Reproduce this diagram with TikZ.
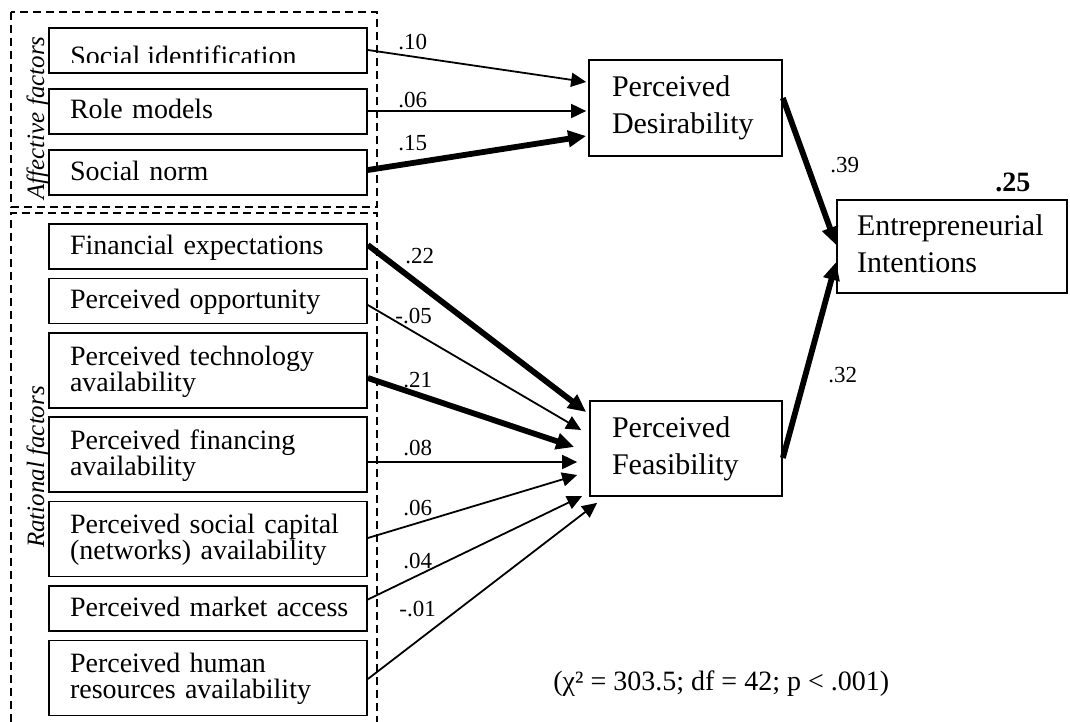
\documentclass[tikz,border=0pt]{standalone}
\usepackage{fontspec}
\setmainfont{Liberation Serif}
\usetikzlibrary{arrows.meta,calc}
\begin{document}
\begin{tikzpicture}[x=0.5pt,y=-0.5pt,
  leftbox/.style={draw, line width=0.85pt, inner xsep=10.5pt, inner ysep=0pt,
    text width=138pt, align=left, font=\fontsize{14}{13}\selectfont,
    text height=10pt},
  onel/.style={leftbox, minimum height=22.5pt, text depth=2.5pt},
  twol/.style={leftbox, minimum height=37.5pt, text depth=15.5pt},
  rightbox/.style={draw, line width=0.85pt, inner ysep=0pt, align=left,
    font=\fontsize{15}{18.5}\selectfont, text height=10.5pt, text depth=21.5pt},
  grp/.style={draw, line width=0.75pt, dash pattern=on 4pt off 2.5pt},
  grplab/.style={rotate=90, anchor=base, inner sep=0pt, font=\fontsize{12.5}{14}\selectfont\itshape},
  thinarr/.style={line width=0.9pt, -{Triangle[length=7.5pt,width=7pt]}},
  thickarr/.style={line width=2.9pt, -{Triangle[length=9pt,width=8pt]}},
  lab/.style={anchor=base west, inner sep=0pt, font=\fontsize{11.5}{12}\selectfont}
]
\useasboundingbox (0,0) rectangle (1070,722);

% group frames
\draw[grp] (11,12) rectangle (377,207);
\draw[grp] (11,722) -- (11,213) -- (377,213) -- (377,722);
\node[grplab] (aff) at (44,118) {Affective factors};
\node[grplab] (rat) at (44,467) {Rational factors};

% left boxes
\node[onel] (si) at (208,50.5) {};
\begin{scope}
  \clip (49,28) rectangle (367,63);
  \node[anchor=base west, inner sep=0pt, font=\fontsize{14}{13}\selectfont] (sitext) at (70,65.5) {Social identification};
\end{scope}
\node[onel] (rm) at (208,111.5) {Role models};
\node[onel] (sn) at (208,172.5) {Social norm};
\node[onel] (fe) at (208,246.5) {\mbox{Financial expectations}};
\node[onel] (po) at (208,301) {\mbox{Perceived opportunity}};
\node[twol] (pt) at (208,370.5) {\mbox{Perceived technology}\\availability};
\node[twol] (pf) at (208,454.5) {\mbox{Perceived financing}\\availability};
\node[twol] (psc) at (208,539) {\mbox{Perceived social capital}\\\mbox{(networks) availability}};
\node[onel] (pma) at (208,608.5) {\mbox{Perceived market access}};
\node[twol] (phr) at (208,678) {\mbox{Perceived human}\\\mbox{resources availability}};

% right boxes
\node[rightbox, minimum width=96.5pt, minimum height=48pt, inner xsep=11.5pt, text width=73.5pt] (des) at (685.5,108) {Perceived\\\mbox{Desirability}};
\node[rightbox, minimum width=96pt, minimum height=47.5pt, inner xsep=11pt, text width=74pt] (fea) at (686,448.5) {Perceived\\\mbox{Feasibility}};
\node[rightbox, minimum width=115pt, minimum height=46.5pt, inner xsep=10pt, text width=95pt] (int) at (952,246.5) {\mbox{Entrepreneurial}\\Intentions};

% arrows to desirability
\draw[thinarr] ($(si.east)+(0,-0.5)$) -- ($(des.west)+(-2,-26)$);
\draw[thinarr] ($(rm.east)+(0,-0.5)$) -- ($(des.west)+(-2,3)$);
\draw[thickarr] ($(sn.east)+(0,-2.5)$) -- ($(des.west)+(-2,28)$);

% arrows to feasibility
\draw[thickarr] ($(fe.east)+(0,-1.5)$) -- ($(fea.west)+(-3,-36.5)$);
\draw[thinarr] ($(po.east)+(0,4)$) -- ($(fea.west)+(-8,-18.5)$);
\draw[thickarr] ($(pt.east)+(0,7.5)$) -- ($(fea.west)+(-15,-1.5)$);
\draw[thinarr] ($(pf.east)+(0,7.5)$) -- ($(fea.west)+(-12,13.5)$);
\draw[thinarr] ($(psc.east)+(0,-1)$) -- ($(fea.west)+(-12,26.5)$);
\draw[thinarr] ($(pma.east)+(0,-9)$) -- ($(fea.west)+(-7,47.5)$);
\draw[thinarr] ($(phr.east)+(0,1)$) -- ($(fea.south west)+(8,6)$);

% arrows to intentions
\draw[thickarr] ($(des.east)+(0,-10)$) -- ($(int.west)+(0,-1.5)$);
\draw[thickarr] ($(fea.east)+(0,9.5)$) -- ($(int.west)+(0,15.5)$);

% path labels
\node[lab] (l1) at (398,50) {.10};
\node[lab] (l2) at (398,107) {.06};
\node[lab] (l3) at (398,150) {.15};
\node[lab] (l4) at (405,263) {.22};
\node[lab] (l5) at (395,323) {-.05};
\node[lab] (l6) at (403,387) {.21};
\node[lab] (l7) at (403,455) {.08};
\node[lab] (l8) at (403,515) {.06};
\node[lab] (l9) at (403,568) {.04};
\node[lab] (l10) at (399,616) {-.01};
\node[lab] (l11) at (830,172) {.39};
\node[lab] (l12) at (828,382) {.32};
\node[anchor=base west, inner sep=0pt, font=\fontsize{14}{16}\selectfont\bfseries] (r2) at (995,191) {.25};

% fit statistics
\node[anchor=base west, inner sep=0pt, font=\fontsize{14}{16}\selectfont] (chi) at (553,690) {(χ² = 303.5; df = 42; p < .001)};
\end{tikzpicture}
\end{document}
